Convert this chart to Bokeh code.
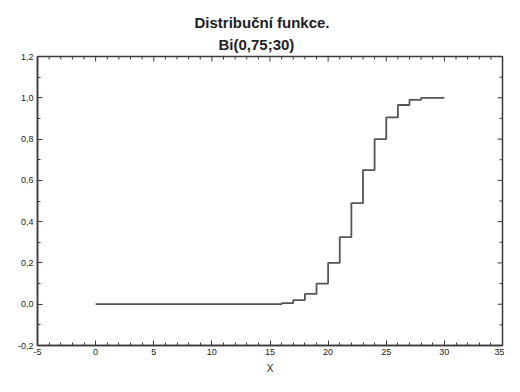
import math
from bokeh.plotting import figure
from bokeh.models import Range1d, FixedTicker, Title
from bokeh.embed import file_html
from bokeh.resources import INLINE

# Data: binomial CDF Bi(0,75;30)
x_vals = [0, 1, 2, 3, 4, 5, 6, 7, 8, 9, 10, 11, 12, 13, 14, 15,
          16, 17, 18, 19, 20, 21, 22, 23, 24, 25, 26, 27, 28, 29, 30]
cdf_vals = [0, 0, 0, 0, 0, 0, 0, 0, 0, 0, 0, 0, 0, 0, 0, 0,
            0.005, 0.02, 0.05, 0.10, 0.20, 0.325, 0.49, 0.65, 0.80,
            0.905, 0.965, 0.99, 1.0, 1.0, 1.0]

x_ticks = [-5, 0, 5, 10, 15, 20, 25, 30, 35]
x_tick_labels = ["-5", "0", "5", "10", "15", "20", "25", "30", "35"]
x_minor = [-4, -3, -2, -1, 1, 2, 3, 4, 6, 7, 8, 9, 11, 12, 13, 14, 16, 17, 18, 19,
           21, 22, 23, 24, 26, 27, 28, 29, 31, 32, 33, 34]
y_ticks = [-0.2, 0.0, 0.2, 0.4, 0.6, 0.8, 1.0, 1.2]
y_tick_labels = ["-0,2", "0,0", "0,2", "0,4", "0,6", "0,8", "1,0", "1,2"]
y_minor = [-0.1, 0.1, 0.3, 0.5, 0.7, 0.9, 1.1]

title_main = "Distribuční funkce."
title_sub = "Bi(0,75;30)"
x_label = "X"

X_MIN, X_MAX = -5, 35
Y_MIN, Y_MAX = -0.2, 1.2

FONT = "Liberation Sans"
AX = "#3a3a3a"
TXT = "#222222"

p = figure(width=504, height=376, output_backend="svg", toolbar_location=None,
           x_range=Range1d(X_MIN, X_MAX), y_range=Range1d(Y_MIN, Y_MAX),
           min_border_left=37, min_border_right=2, min_border_top=56, min_border_bottom=30,
           background_fill_color="white", border_fill_color="white")
p.title.visible = False
p.grid.visible = False
p.outline_line_color = AX
p.outline_line_width = 1.5

xt = FixedTicker(ticks=x_ticks, minor_ticks=x_minor)
yt = FixedTicker(ticks=y_ticks, minor_ticks=y_minor)


def style(ax, ticker, labels):
    ax.ticker = ticker
    ax.axis_line_color = AX
    ax.axis_line_width = 1.5
    ax.major_tick_line_color = AX
    ax.minor_tick_line_color = AX
    ax.major_tick_in = 5
    ax.major_tick_out = 0
    ax.minor_tick_in = 3
    ax.minor_tick_out = 0
    ax.major_label_text_font = FONT
    ax.major_label_text_font_size = "9px"
    ax.major_label_text_color = TXT
    ax.major_label_overrides = labels
    ax.major_label_standoff = 3


style(p.xaxis[0], xt, {t: l for t, l in zip(x_ticks, x_tick_labels)})
style(p.yaxis[0], yt, {t: l for t, l in zip(y_ticks, y_tick_labels)})
p.yaxis[0].major_label_standoff = 4
p.xaxis[0].axis_label = x_label
p.xaxis[0].axis_label_text_font = FONT
p.xaxis[0].axis_label_text_font_size = "10px"
p.xaxis[0].axis_label_text_font_style = "normal"
p.xaxis[0].axis_label_text_color = TXT
p.xaxis[0].axis_label_standoff = 5

# mirrored inward ticks on top and right edges
p.ray(x=x_ticks, y=[Y_MAX] * len(x_ticks), length=5, angle=-math.pi / 2,
      length_units="screen", line_color=AX, line_width=1)
p.ray(x=x_minor, y=[Y_MAX] * len(x_minor), length=3, angle=-math.pi / 2,
      length_units="screen", line_color=AX, line_width=1)
p.ray(x=[X_MAX] * len(y_ticks), y=y_ticks, length=5, angle=math.pi,
      length_units="screen", line_color=AX, line_width=1)
p.ray(x=[X_MAX] * len(y_minor), y=y_minor, length=3, angle=math.pi,
      length_units="screen", line_color=AX, line_width=1)

p.add_layout(Title(text=title_sub, align="left", text_font=FONT, text_font_size="15px",
                   text_font_style="bold", text_color=TXT, offset=181, standoff=7), "above")
p.add_layout(Title(text=title_main, align="left", text_font=FONT, text_font_size="15px",
                   text_font_style="bold", text_color=TXT, offset=157, standoff=0), "above")

p.step(x_vals, cdf_vals, mode="after", line_color="#555555", line_width=1.8)

open("out.html", "w").write(file_html(p, INLINE))
